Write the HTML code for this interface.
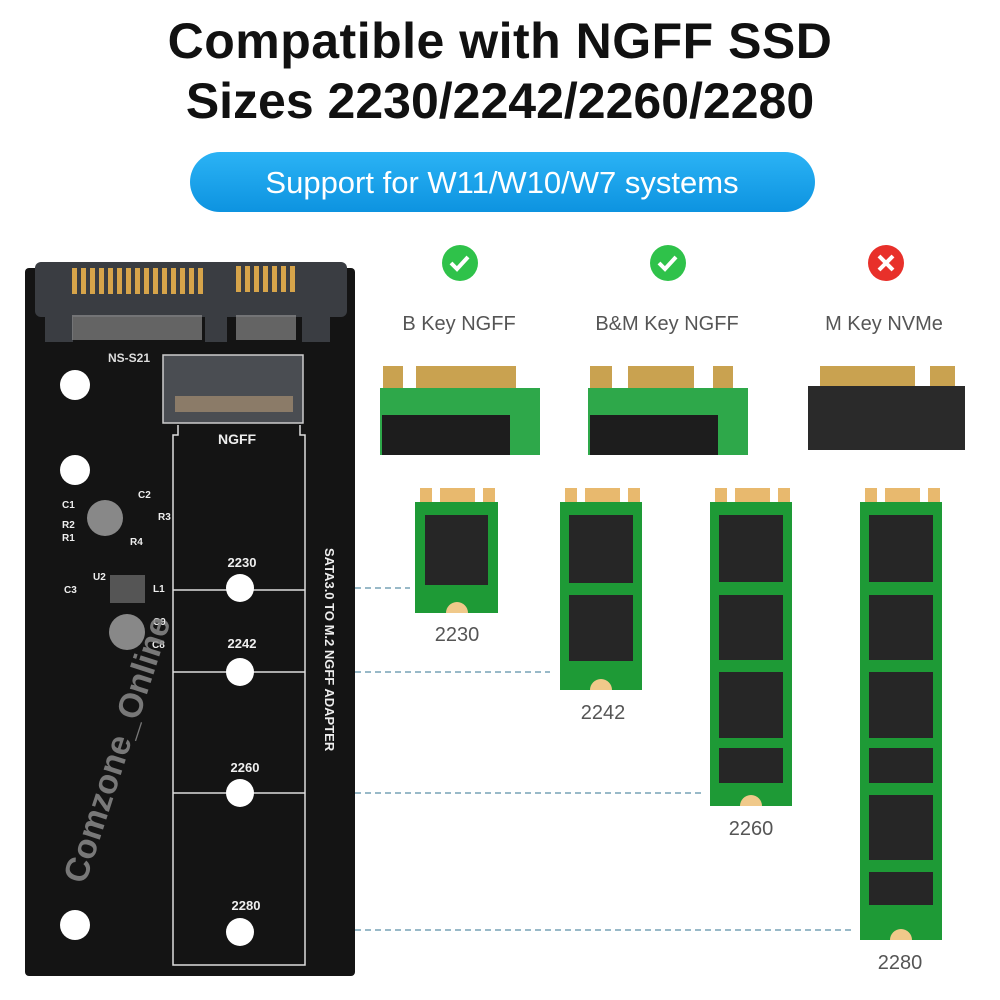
<!DOCTYPE html>
<html><head><meta charset="utf-8"><style>
body{margin:0;background:#fff}
svg{display:block;font-family:"Liberation Sans",sans-serif}
</style></head><body>
<svg width="1000" height="1000" viewBox="0 0 1000 1000" xmlns="http://www.w3.org/2000/svg">
<defs>
<linearGradient id="bl" x1="0" y1="0" x2="0" y2="1"><stop offset="0" stop-color="#2bb3f5"/><stop offset="1" stop-color="#0d93e0"/></linearGradient>
<g id="pin"><rect width="5" height="24" fill="#d6a44a"/></g>
</defs>
<text x="500" y="58" text-anchor="middle" font-size="50" fill="#111" font-weight="bold" style="letter-spacing:0.5px">Compatible with NGFF SSD</text>
<text x="500" y="118" text-anchor="middle" font-size="50" fill="#111" font-weight="bold">Sizes 2230/2242/2260/2280</text>
<rect x="190" y="152" width="625" height="60" rx="30" fill="url(#bl)"/>
<text x="502" y="193" text-anchor="middle" font-size="31" fill="#fff">Support for W11/W10/W7 systems</text>

<!-- board -->
<rect x="25" y="268" width="330" height="708" rx="4" fill="#141414"/>
<rect x="35" y="262" width="312" height="55" rx="6" fill="#3a3d42"/>
<rect x="45" y="312" width="28" height="30" fill="#3a3d42"/><rect x="302" y="312" width="28" height="30" fill="#3a3d42"/><rect x="205" y="312" width="22" height="30" fill="#3a3d42"/>
<g fill="#d6a44a">
<rect x="72" y="268" width="5" height="26"/><rect x="81" y="268" width="5" height="26"/><rect x="90" y="268" width="5" height="26"/><rect x="99" y="268" width="5" height="26"/><rect x="108" y="268" width="5" height="26"/><rect x="117" y="268" width="5" height="26"/><rect x="126" y="268" width="5" height="26"/><rect x="135" y="268" width="5" height="26"/><rect x="144" y="268" width="5" height="26"/><rect x="153" y="268" width="5" height="26"/><rect x="162" y="268" width="5" height="26"/><rect x="171" y="268" width="5" height="26"/><rect x="180" y="268" width="5" height="26"/><rect x="189" y="268" width="5" height="26"/><rect x="198" y="268" width="5" height="26"/>
<rect x="236" y="266" width="5" height="26"/><rect x="245" y="266" width="5" height="26"/><rect x="254" y="266" width="5" height="26"/><rect x="263" y="266" width="5" height="26"/><rect x="272" y="266" width="5" height="26"/><rect x="281" y="266" width="5" height="26"/><rect x="290" y="266" width="5" height="26"/>
</g>
<g fill="#9a9a9a"><rect x="72" y="315" width="130" height="25" opacity="0.6"/><rect x="236" y="315" width="60" height="25" opacity="0.6"/></g>
<text x="108" y="362" font-size="12" fill="#ddd" font-weight="bold">NS-S21</text>
<rect x="163" y="355" width="140" height="68" fill="#4a4d52" stroke="#ccc" stroke-width="1.5"/>
<rect x="175" y="396" width="118" height="16" fill="#8b7b68"/>
<path d="M178 425 V435 H173 V965 H305 V435 H300 V425" fill="none" stroke="#ddd" stroke-width="1.5"/>
<text x="218" y="444" font-size="14" fill="#eee" font-weight="bold">NGFF</text>
<g stroke="#ddd" stroke-width="1.5"><line x1="173" y1="590" x2="305" y2="590"/><line x1="173" y1="672" x2="305" y2="672"/><line x1="173" y1="793" x2="305" y2="793"/></g>
<g fill="#fff"><circle cx="240" cy="588" r="14"/><circle cx="240" cy="672" r="14"/><circle cx="240" cy="793" r="14"/><circle cx="240" cy="932" r="14"/><circle cx="75" cy="385" r="15"/><circle cx="75" cy="470" r="15"/><circle cx="75" cy="925" r="15"/></g>
<g font-size="13" fill="#eee" font-weight="bold" text-anchor="middle"><text x="242" y="567">2230</text><text x="242" y="648">2242</text><text x="245" y="772">2260</text><text x="246" y="910">2280</text></g>
<text transform="translate(325,548) rotate(90)" font-size="13" fill="#eee" font-weight="bold">SATA3.0 TO M.2 NGFF ADAPTER</text>
<g fill="#888"><circle cx="105" cy="518" r="18"/><circle cx="127" cy="632" r="18"/><rect x="110" y="575" width="35" height="28" fill="#555"/></g>
<g fill="#eee" font-size="10" font-weight="bold"><text x="62" y="508">C1</text><text x="62" y="528">R2</text><text x="62" y="541">R1</text><text x="138" y="498">C2</text><text x="158" y="520">R3</text><text x="130" y="545">R4</text><text x="93" y="580">U2</text><text x="153" y="592">L1</text><text x="153" y="625">C9</text><text x="152" y="648">C8</text><text x="64" y="593">C3</text></g>
<text transform="translate(85,885) rotate(-72)" font-size="34" font-weight="bold" fill="#8a8a8a" opacity="0.85">Comzone_Online</text>

<!-- icons -->
<circle cx="460" cy="263" r="18" fill="#2fc24a"/><path d="M451 263 l6 6 l11 -12" stroke="#fff" stroke-width="4" fill="none"/>
<circle cx="668" cy="263" r="18" fill="#2fc24a"/><path d="M659 263 l6 6 l11 -12" stroke="#fff" stroke-width="4" fill="none"/>
<circle cx="886" cy="263" r="18" fill="#e8302a"/><path d="M879 256 l14 14 M893 256 l-14 14" stroke="#fff" stroke-width="4"/>
<g font-size="20" fill="#555" text-anchor="middle"><text x="459" y="330">B Key NGFF</text><text x="667" y="330">B&amp;M Key NGFF</text><text x="884" y="330">M Key NVMe</text></g>

<!-- module pics -->
<g>
<rect x="383" y="366" width="20" height="22" fill="#c9a250"/><rect x="416" y="366" width="100" height="22" fill="#c9a250"/>
<path d="M380 388 H540 V455 H380Z" fill="#2ea84a"/><rect x="382" y="415" width="128" height="40" fill="#1d1d1d"/>
<rect x="590" y="366" width="22" height="22" fill="#c9a250"/><rect x="628" y="366" width="66" height="22" fill="#c9a250"/><rect x="713" y="366" width="20" height="22" fill="#c9a250"/>
<path d="M588 388 H748 V455 H588Z" fill="#2ea84a"/><rect x="590" y="415" width="128" height="40" fill="#1d1d1d"/>
<rect x="820" y="366" width="95" height="20" fill="#c9a250"/><rect x="930" y="366" width="25" height="20" fill="#c9a250"/>
<path d="M808 386 H965 V450 H808Z" fill="#2a2a2a"/>
</g>

<!-- dashed lines -->
<g stroke="#5a8fa8" stroke-dasharray="6,4" stroke-width="1.2"><line x1="355" y1="588" x2="410" y2="588"/><line x1="355" y1="672" x2="550" y2="672"/><line x1="355" y1="793" x2="705" y2="793"/><line x1="355" y1="930" x2="855" y2="930"/></g>

<!-- SSD cards -->
<g id="c1">
<rect x="420" y="488" width="12" height="14" fill="#e8b96e"/><rect x="440" y="488" width="35" height="14" fill="#e8b96e"/><rect x="483" y="488" width="12" height="14" fill="#e8b96e"/>
<rect x="415" y="502" width="83" height="111" fill="#1e9a36"/>
<rect x="425" y="515" width="63" height="70" fill="#262626"/>
<path d="M446 613 a11 11 0 0 1 22 0Z" fill="#f0c98a"/>
</g>
<g>
<rect x="565" y="488" width="12" height="14" fill="#e8b96e"/><rect x="585" y="488" width="35" height="14" fill="#e8b96e"/><rect x="628" y="488" width="12" height="14" fill="#e8b96e"/>
<rect x="560" y="502" width="82" height="188" fill="#1e9a36"/>
<rect x="569" y="515" width="64" height="68" fill="#262626"/><rect x="569" y="595" width="64" height="66" fill="#262626"/>
<path d="M590 690 a11 11 0 0 1 22 0Z" fill="#f0c98a"/>
</g>
<g>
<rect x="715" y="488" width="12" height="14" fill="#e8b96e"/><rect x="735" y="488" width="35" height="14" fill="#e8b96e"/><rect x="778" y="488" width="12" height="14" fill="#e8b96e"/>
<rect x="710" y="502" width="82" height="304" fill="#1e9a36"/>
<rect x="719" y="515" width="64" height="67" fill="#262626"/><rect x="719" y="595" width="64" height="65" fill="#262626"/><rect x="719" y="672" width="64" height="66" fill="#262626"/><rect x="719" y="748" width="64" height="35" fill="#262626"/>
<path d="M740 806 a11 11 0 0 1 22 0Z" fill="#f0c98a"/>
</g>
<g>
<rect x="865" y="488" width="12" height="14" fill="#e8b96e"/><rect x="885" y="488" width="35" height="14" fill="#e8b96e"/><rect x="928" y="488" width="12" height="14" fill="#e8b96e"/>
<rect x="860" y="502" width="82" height="438" fill="#1e9a36"/>
<rect x="869" y="515" width="64" height="67" fill="#262626"/><rect x="869" y="595" width="64" height="65" fill="#262626"/><rect x="869" y="672" width="64" height="66" fill="#262626"/><rect x="869" y="748" width="64" height="35" fill="#262626"/><rect x="869" y="795" width="64" height="65" fill="#262626"/><rect x="869" y="872" width="64" height="33" fill="#262626"/>
<path d="M890 940 a11 11 0 0 1 22 0Z" fill="#f0c98a"/>
</g>
<g font-size="20" fill="#555" text-anchor="middle"><text x="457" y="641">2230</text><text x="603" y="719">2242</text><text x="751" y="835">2260</text><text x="900" y="969">2280</text></g>
</svg>
</body></html>
